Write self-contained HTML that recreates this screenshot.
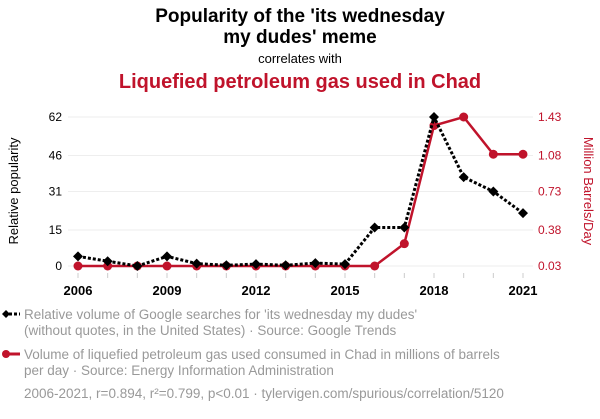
<!DOCTYPE html>
<html><head><meta charset="utf-8"><style>
body{margin:0;background:#fff;width:600px;height:414px;overflow:hidden;font-family:"Liberation Sans",sans-serif}
</style></head><body>
<svg width="600" height="414" xmlns="http://www.w3.org/2000/svg" font-family="Liberation Sans, sans-serif">
<text x="300" y="22" text-anchor="middle" font-size="19" font-weight="bold" fill="#000">Popularity of the 'its wednesday</text>
<text x="300" y="43" text-anchor="middle" font-size="19" font-weight="bold" fill="#000">my dudes' meme</text>
<text x="300" y="63" text-anchor="middle" font-size="13" fill="#000">correlates with</text>
<text x="300" y="88" text-anchor="middle" font-size="20" font-weight="bold" fill="#c0132b">Liquefied petroleum gas used in Chad</text>
<g id="grid"></g><g id="axes"></g><g id="series"></g>
<text transform="translate(18,191) rotate(-90)" text-anchor="middle" font-size="13" fill="#000">Relative popularity</text>
<text transform="translate(584,191) rotate(90)" text-anchor="middle" font-size="13" fill="#c0132b">Million Barrels/Day</text>
<g>
<line x1="4" y1="314" x2="20" y2="314" stroke="#000" stroke-width="3" stroke-dasharray="3,2"/>
<path d="M6 310L10 314L6 318L2 314Z" fill="#000"/>
<text x="24" y="319" font-size="13.5" fill="#999">Relative volume of Google searches for 'its wednesday my dudes'</text>
<text x="24" y="335" font-size="13.5" fill="#999">(without quotes, in the United States) · Source: Google Trends</text>
</g>
<g>
<line x1="4" y1="354" x2="20" y2="354" stroke="#c0132b" stroke-width="3"/>
<circle cx="6" cy="354" r="4" fill="#c0132b"/>
<text x="24" y="359" font-size="13.5" fill="#999">Volume of liquefied petroleum gas used consumed in Chad in millions of barrels</text>
<text x="24" y="375" font-size="13.5" fill="#999">per day · Source: Energy Information Administration</text>
</g>
<text x="24" y="398" font-size="13.5" fill="#999">2006-2021, r=0.894, r²=0.799, p&lt;0.01 · tylervigen.com/spurious/correlation/5120</text>
</svg>
<script>
const years=[2006,2007,2008,2009,2010,2011,2012,2013,2014,2015,2016,2017,2018,2019,2020,2021];
const memes=[4,2,0,4,1,0.3,0.8,0.3,1.2,0.8,16,16,62,37,31,22];
const lpg=[0.03,0.03,0.03,0.03,0.03,0.03,0.03,0.03,0.03,0.03,0.03,0.24,1.35,1.43,1.08,1.08];
const leftTicks=[0,15,31,46,62];
const rightTicks=["0.03","0.38","0.73","1.08","1.43"];
const xTicks=[2006,2009,2012,2015,2018,2021];
const NS="http://www.w3.org/2000/svg";
const x=y=>78+(y-2006)*(523-78)/15;
const yl=v=>266-v*(266-117)/62;
const yr=v=>266-(v-0.03)*(266-117)/1.4;
function mk(p,t,a){const e=document.createElementNS(NS,t);for(const k in a)e.setAttribute(k,a[k]);p.appendChild(e);return e;}
const grid=document.getElementById('grid'),axes=document.getElementById('axes'),ser=document.getElementById('series');
leftTicks.forEach((t,i)=>{
 const g=mk(grid,'line',{x1:68,x2:533,y1:yl(t),y2:yl(t),stroke:'#eee','stroke-width':1});
 
 
 const l=mk(axes,'text',{x:62,y:yl(t)+4,'text-anchor':'end','font-size':12,fill:'#000'});l.textContent=t;
 
 
 const r=mk(axes,'text',{x:538,y:yl(t)+4,'font-size':12,fill:'#c0132b'});r.textContent=rightTicks[i];
 
 
});
years.forEach(yv=>{mk(axes,'line',{x1:x(yv),x2:x(yv),y1:273,y2:278,stroke:'#ccc'});});
xTicks.forEach(t=>{
 const e=mk(axes,'text',{x:x(t),y:295,'text-anchor':'middle','font-size':13,'font-weight':'bold',fill:'#000'});e.textContent=t;
 
 
});
const rl=mk(ser,'polyline',{points:years.map((y,i)=>x(y)+','+yr(lpg[i])).join(' '),fill:'none',stroke:'#c0132b','stroke-width':2.5});


years.forEach((y,i)=>{const c=mk(ser,'circle',{cx:x(y),cy:yr(lpg[i]),r:4.5,fill:'#c0132b'});
 
 });
const bl=mk(ser,'polyline',{points:years.map((y,i)=>x(y)+','+yl(memes[i])).join(' '),fill:'none',stroke:'#000','stroke-width':3,'stroke-dasharray':'3,2'});


years.forEach((y,i)=>{const cx=x(y),cy=yl(memes[i]);
 const d=mk(ser,'path',{d:`M${cx} ${cy-5}L${cx+5} ${cy}L${cx} ${cy+5}L${cx-5} ${cy}Z`,fill:'#000'});
 
 });
</script>
</body></html>
